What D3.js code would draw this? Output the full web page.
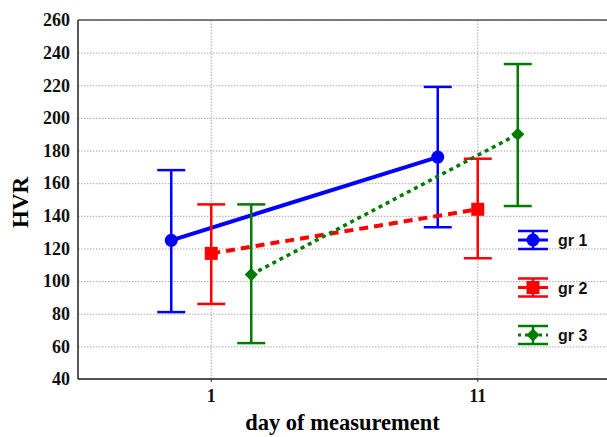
<!DOCTYPE html>
<html>
<head>
<meta charset="utf-8">
<title>HVR by day of measurement</title>
<script src="https://d3js.org/d3.v7.min.js"></script>
<style>
  body { margin: 0; background: #fff; }
  .tick text { font-family: "Liberation Serif", "Times New Roman", serif; font-weight: bold; font-size: 18px; fill: #111; }
  .grid line { stroke: #a8a8a8; stroke-dasharray: 1.5 1.5; }
  .grid path { display: none; }
</style>
</head>
<body>
<script>
// days on the x axis
var days = ["1", "11"];
var groups = ["gr 1", "gr 2", "gr 3"];
var colors = ["#0000ff", "#ff0000", "#007a00"];
// means and error bar ends, per group, per day
var means = [[125, 176], [117, 144], [104, 190]];
var upper = [[168, 219], [147, 175], [147, 233]];
var lower = [[81, 133], [86, 114], [62, 146]];
var yTicks = [40, 60, 80, 100, 120, 140, 160, 180, 200, 220, 240, 260];

var W = 607, H = 437;
var m = {left: 78, top: 20, right: -4, bottom: 58};

var svg = d3.select("body").append("svg").attr("width", W).attr("height", H);

var x = d3.scaleBand().domain(days).range([m.left, W - m.right]);
var y = d3.scaleLinear().domain([40, 260]).range([H - m.bottom, m.top]);
var offset = d3.scalePoint().domain(groups).range([-40, 40]);

// grid
svg.append("g").attr("class", "grid")
  .attr("transform", "translate(" + m.left + ",0)")
  .call(d3.axisLeft(y).tickValues(yTicks).tickSize(-(W - m.left - m.right)).tickFormat(""));
svg.append("g").attr("class", "grid")
  .attr("transform", "translate(0," + (H - m.bottom) + ")")
  .call(d3.axisBottom(x).tickSize(-(H - m.top - m.bottom)).tickFormat(""));

// frame
svg.append("line").attr("x1", m.left).attr("x2", W).attr("y1", m.top).attr("y2", m.top)
  .attr("stroke", "#555").attr("stroke-width", 1.5);
svg.append("line").attr("x1", m.left).attr("x2", m.left).attr("y1", m.top).attr("y2", H - m.bottom)
  .attr("stroke", "#222").attr("stroke-width", 1.5);
svg.append("line").attr("x1", m.left).attr("x2", W).attr("y1", H - m.bottom).attr("y2", H - m.bottom)
  .attr("stroke", "#222").attr("stroke-width", 1.5);

// axes labels
var ya = svg.append("g").attr("transform", "translate(" + m.left + ",0)")
  .call(d3.axisLeft(y).tickValues(yTicks).tickSize(0).tickPadding(8));
ya.select(".domain").remove();
var xa = svg.append("g").attr("transform", "translate(0," + (H - m.bottom) + ")")
  .call(d3.axisBottom(x).tickSize(3).tickPadding(7));
xa.select(".domain").remove();
xa.selectAll(".tick line").attr("stroke", "#333");

svg.append("text")
  .attr("transform", "translate(28," + ((m.top + H - m.bottom) / 2 + 3) + ") rotate(-90)")
  .attr("text-anchor", "middle")
  .style("font-family", "Liberation Serif, serif").style("font-weight", "bold").style("font-size", "23px")
  .text("HVR");
svg.append("text")
  .attr("x", (m.left + W) / 2).attr("y", 430)
  .attr("text-anchor", "middle")
  .style("font-family", "Liberation Serif, serif").style("font-weight", "bold").style("font-size", "22.5px")
  .text("day of measurement");

var dashes = [null, "9 6", "4 4"];
var widths = [4, 4, 3.5];

function px(g, i) { return x(days[i]) + x.bandwidth() / 2 + offset(groups[g]); }

function marker(sel, g, cx, cy) {
  if (g === 0) {
    sel.append("circle").attr("cx", cx).attr("cy", cy).attr("r", 6.5).attr("fill", colors[g]);
  } else if (g === 1) {
    sel.append("rect").attr("x", cx - 6.5).attr("y", cy - 6.5).attr("width", 13).attr("height", 13).attr("fill", colors[g]);
  } else {
    sel.append("path").attr("d", d3.symbol(d3.symbolDiamond2, 110)).attr("transform", "translate(" + cx + "," + cy + ")")
      .attr("fill", colors[g]);
  }
}

groups.forEach(function(name, g) {
  var grp = svg.append("g");
  // error bars
  days.forEach(function(d, i) {
    var cx = px(g, i);
    grp.append("line").attr("x1", cx).attr("x2", cx).attr("y1", y(upper[g][i])).attr("y2", y(lower[g][i]))
      .attr("stroke", colors[g]).attr("stroke-width", 2.5);
    [upper[g][i], lower[g][i]].forEach(function(v) {
      grp.append("line").attr("x1", cx - 14).attr("x2", cx + 14).attr("y1", y(v)).attr("y2", y(v))
        .attr("stroke", colors[g]).attr("stroke-width", 2.5);
    });
  });
  var line = d3.line().x(function(d, i) { return px(g, i); }).y(function(d) { return y(d); });
  grp.append("path").attr("d", line(means[g])).attr("fill", "none")
    .attr("stroke", colors[g]).attr("stroke-width", widths[g]).attr("stroke-dasharray", dashes[g]);
  days.forEach(function(d, i) { marker(grp, g, px(g, i), y(means[g][i])); });

  // legend
  var ly = 240 + g * 47.5, lx = 533;
  var lg = svg.append("g");
  [-9, 9].forEach(function(o) {
    lg.append("line").attr("x1", lx - 15).attr("x2", lx + 15).attr("y1", ly + o).attr("y2", ly + o)
      .attr("stroke", colors[g]).attr("stroke-width", 2.5);
  });
  lg.append("line").attr("x1", lx).attr("x2", lx).attr("y1", ly - 9).attr("y2", ly + 9)
    .attr("stroke", colors[g]).attr("stroke-width", 2.5);
  lg.append("line").attr("x1", lx - 15).attr("x2", lx + 15).attr("y1", ly).attr("y2", ly)
    .attr("stroke", colors[g]).attr("stroke-width", 3).attr("stroke-dasharray", g === 2 ? "3 4" : null);
  marker(lg, g, lx, ly);
  lg.append("text").attr("x", 558).attr("y", ly + 6)
    .style("font-family", "Liberation Sans, Arial, sans-serif").style("font-weight", "bold").style("font-size", "16px")
    .attr("fill", "#111")
    .text(name);
});
</script>
</body>
</html>
